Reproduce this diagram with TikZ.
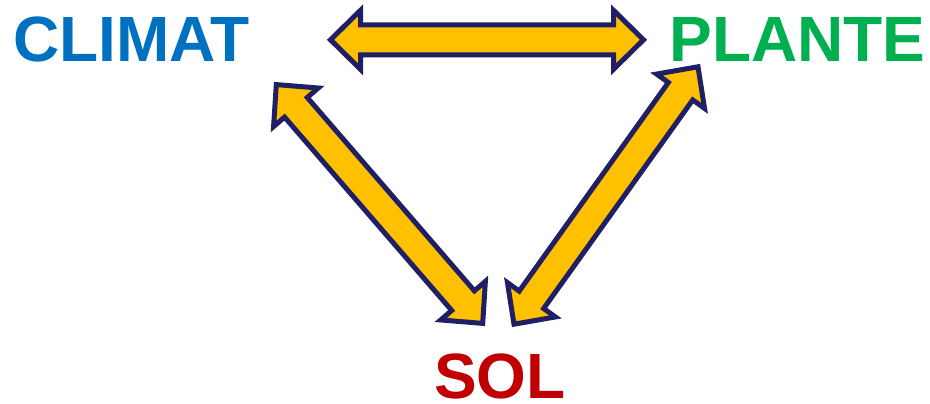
\documentclass[tikz,border=0pt]{standalone}
\usepackage{fontspec}
\setmainfont{Liberation Sans}
\usetikzlibrary{calc}
\definecolor{climatcol}{HTML}{0070C0}
\definecolor{plantecol}{HTML}{00B050}
\definecolor{solcol}{HTML}{C00000}
\definecolor{arrowfill}{HTML}{FFC000}
\definecolor{arrowline}{HTML}{1F1F66}
\tikzset{
  blockarrow/.style={draw=arrowline, fill=arrowfill, line width=5pt, line join=miter},
  label/.style={font=\fontsize{64}{64}\selectfont\bfseries, inner sep=0pt, anchor=base}
}
\newcommand\blockarrow[2]{%
  \draw[blockarrow] let \p1=($(#2)-(#1)$), \n1={veclen(\x1,\y1)}, \n2={atan2(\y1,\x1)} in
    (#1)
    -- ($(#1)+(\n2:30pt)+(\n2+90:29.5pt)$)
    -- ($(#1)+(\n2:30pt)+(\n2+90:15pt)$)
    -- ($(#1)+(\n2:{\n1-30pt})+(\n2+90:15pt)$)
    -- ($(#1)+(\n2:{\n1-30pt})+(\n2+90:29.5pt)$)
    -- (#2)
    -- ($(#1)+(\n2:{\n1-30pt})+(\n2-90:29.5pt)$)
    -- ($(#1)+(\n2:{\n1-30pt})+(\n2-90:15pt)$)
    -- ($(#1)+(\n2:30pt)+(\n2-90:15pt)$)
    -- ($(#1)+(\n2:30pt)+(\n2-90:29.5pt)$)
    -- cycle;
}
\begin{document}
\begin{tikzpicture}[x=1pt,y=1pt]
\useasboundingbox (0,0) rectangle (930,404);
\node[label, text=climatcol] (climat) at (131.5,342) {CLIMAT};
\node[label, text=plantecol] (plante) at (797.5,342) {PLANTE};
\node[label, text=solcol] (sol) at (500,5) {SOL};
\coordinate (cp1) at (330.5,364.2);
\coordinate (cp2) at (643.5,364.2);
\coordinate (cs1) at (276.3,319.4);
\coordinate (cs2) at (482.7,80.6);
\coordinate (ps1) at (514,79.8);
\coordinate (ps2) at (698,337.2);
\blockarrow{cp1}{cp2}
\blockarrow{cs1}{cs2}
\blockarrow{ps1}{ps2}
\end{tikzpicture}
\end{document}
